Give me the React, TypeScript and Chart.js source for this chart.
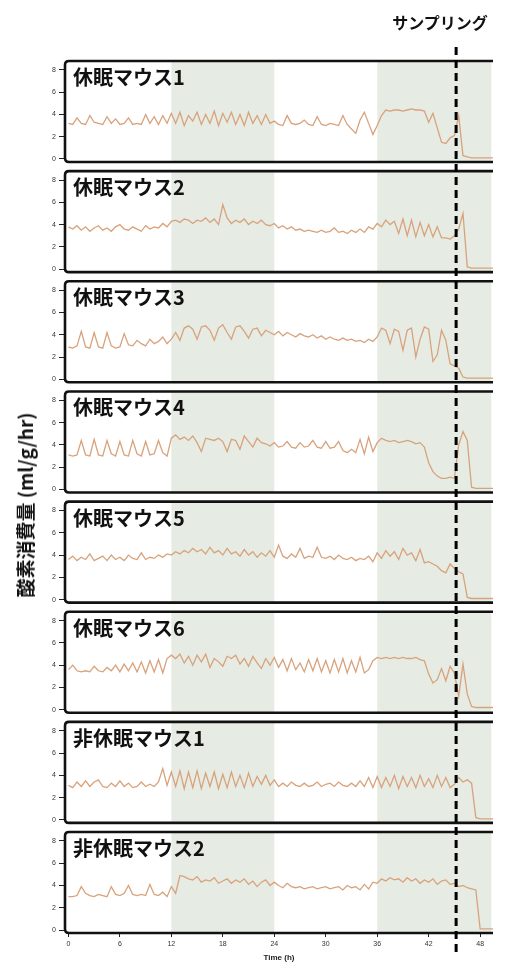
import React, { useEffect, useRef } from "react";
import { Chart, registerables } from "chart.js";

Chart.register(...registerables);

// ---------------- data ----------------
const TIMES = [
  0, 0.5, 1, 1.5, 2, 2.5, 3, 3.5, 4, 4.5, 5, 5.5, 6, 6.5, 7, 7.5, 8, 8.5, 9, 9.5,
  10, 10.5, 11, 11.5, 12, 12.5, 13, 13.5, 14, 14.5, 15, 15.5, 16, 16.5, 17, 17.5, 18, 18.5, 19, 19.5,
  20, 20.5, 21, 21.5, 22, 22.5, 23, 23.5, 24, 24.5, 25, 25.5, 26, 26.5, 27, 27.5, 28, 28.5, 29, 29.5,
  30, 30.5, 31, 31.5, 32, 32.5, 33, 33.5, 34, 34.5, 35, 35.5, 36, 36.5, 37, 37.5, 38, 38.5, 39, 39.5,
  40, 40.5, 41, 41.5, 42, 42.5, 43, 43.5, 44, 44.5, 45, 45.5, 46, 46.5, 47, 47.5, 48, 48.5, 49, 49.5,
];

const PANEL_NAMES = [
  "休眠マウス1",
  "休眠マウス2",
  "休眠マウス3",
  "休眠マウス4",
  "休眠マウス5",
  "休眠マウス6",
  "非休眠マウス1",
  "非休眠マウス2",
];

const HIB_MOUSE_1 = [
  3.2, 3.1, 3.7, 3.2, 3.1, 3.9, 3.3, 3.2, 3.1, 3.8, 3.2, 3.6, 3.1, 3.2, 3.7, 3.1, 3.2, 3.1, 4.0, 3.2, 3.8, 3.1, 3.9, 3.2,
  4.1, 3.2, 4.2, 3.0, 3.9, 3.4, 4.2, 3.1, 4.0, 3.2, 4.3, 3.0, 4.1, 3.3, 4.2, 3.1, 4.0, 3.0, 4.2, 3.2, 3.9, 3.1, 4.0, 3.2,
  3.4, 3.1, 3.0, 3.9, 3.2, 3.1, 3.2, 3.5, 3.1, 3.0, 3.8, 3.1, 3.0, 3.2, 3.1, 3.0, 3.9, 3.1, 2.7, 2.3, 3.5, 4.2, 3.2, 2.2,
  3.0, 3.9, 4.4, 4.3, 4.4, 4.4, 4.3, 4.4, 4.5, 4.4, 4.4, 4.3, 3.3, 4.1, 2.8, 1.5, 1.4, 1.9, 2.1, 3.9, 0.3, 0.2, 0.1, 0.1,
  0.1, 0.1, 0.1, 0.1,
];
const HIB_MOUSE_2 = [
  3.8, 3.6, 3.9, 3.5, 3.8, 3.4, 3.7, 3.9, 3.5, 3.7, 3.4, 3.8, 4.0, 3.6, 3.5, 3.8, 3.6, 3.4, 3.9, 3.6, 3.8, 3.7, 4.1, 3.8,
  4.3, 4.4, 4.2, 4.5, 4.4, 4.1, 4.4, 4.3, 4.6, 4.2, 4.5, 4.0, 5.8, 4.6, 4.1, 4.4, 4.2, 4.5, 4.0, 4.3, 4.1, 4.4, 4.0, 3.9,
  4.1, 3.7, 3.9, 3.6, 3.8, 3.5, 3.6, 3.4, 3.5, 3.4, 3.3, 3.5, 3.3, 3.4, 3.7, 3.3, 3.4, 3.2, 3.5, 3.3, 3.6, 3.3, 3.8, 3.6,
  4.1, 3.8, 4.4, 4.0, 4.3, 3.2, 4.5, 3.0, 4.4, 2.9, 4.2, 3.0, 4.0, 2.9, 3.8, 2.8, 2.8, 2.7, 3.0, 3.6, 5.0, 0.2, 0.1, 0.1,
  0.1, 0.1, 0.1, 0.1,
];
const HIB_MOUSE_3 = [
  2.9, 2.8, 3.0, 4.3, 2.9, 2.8, 4.2, 2.9, 2.8, 4.2, 3.0, 2.8, 2.9, 4.1, 3.1, 3.0, 3.5, 3.2, 3.0, 3.6, 3.2, 3.4, 3.8, 3.2,
  3.6, 4.2, 3.5, 4.6, 4.8, 4.5, 3.6, 4.7, 4.8, 4.4, 3.5, 4.6, 4.9, 4.2, 3.6, 4.7, 4.8, 4.3, 3.7, 4.5, 4.6, 3.9, 4.4, 4.2,
  4.0, 4.3, 3.9, 4.2, 4.0, 3.8, 4.1, 3.9, 3.8, 4.0, 3.7, 3.9, 3.6, 3.8, 3.6, 3.5, 3.7, 3.5, 3.6, 3.4, 3.5, 3.3, 3.6, 3.4,
  3.8, 4.6, 4.4, 3.2, 4.5, 4.3, 2.6, 4.4, 4.6, 2.0, 3.6, 4.7, 4.5, 1.6, 2.2, 4.4, 3.5, 1.4, 1.2, 1.0, 0.2, 0.1, 0.1, 0.1,
  0.1, 0.1, 0.1, 0.1,
];
const HIB_MOUSE_4 = [
  3.1, 3.0, 3.1, 4.4, 3.1, 3.0, 4.5, 3.1, 3.0, 4.4, 3.2, 3.0, 4.3, 3.1, 3.0, 4.4, 3.2, 3.0, 4.3, 3.1, 3.2, 4.4, 3.3, 3.0,
  4.6, 4.9, 4.5, 4.7, 4.4, 4.8, 4.2, 3.4, 4.6, 4.5, 4.4, 4.6, 4.3, 3.4, 4.5, 4.4, 3.6, 4.8, 4.3, 3.8, 4.6, 4.2, 4.1, 3.9,
  4.2, 3.8, 3.9, 4.3, 3.8, 3.7, 4.2, 3.8, 3.9, 4.4, 3.8, 3.7, 4.3, 3.7, 3.8, 4.3, 3.5, 3.3, 3.6, 3.3, 4.5, 3.2, 4.7, 3.4,
  4.2, 4.6, 4.4, 4.3, 4.4, 4.2, 4.3, 4.4, 4.3, 4.1, 4.2, 3.8, 2.4, 1.6, 1.2, 1.0, 1.0, 1.1, 1.0, 4.0, 5.2, 4.4, 0.2, 0.1,
  0.1, 0.1, 0.1, 0.1,
];
const HIB_MOUSE_5 = [
  3.6, 3.9, 3.5, 3.8, 3.6, 4.1, 3.5, 3.7, 3.9, 3.5, 4.0, 3.6, 3.8, 3.5, 4.0, 3.7, 3.6, 4.2, 3.6, 3.8, 3.7, 4.0, 3.8, 4.1,
  4.0, 4.3, 4.1, 4.4, 4.2, 4.6, 4.3, 4.5, 4.1, 4.7, 4.2, 4.4, 4.0, 4.6, 4.1, 4.3, 3.9, 4.5, 4.0, 4.3, 3.8, 4.2, 3.9, 4.4,
  3.8, 4.9, 3.9, 3.7, 4.1, 3.8, 4.6, 3.7, 3.9, 3.8, 4.7, 3.8, 3.7, 3.9, 3.6, 4.0, 3.7, 3.6, 3.8, 3.5, 3.7, 3.6, 3.9, 3.4,
  4.2, 3.7, 4.4, 3.9, 4.3, 3.6, 4.6, 4.0, 4.2, 3.5, 4.5, 3.3, 3.4, 3.2, 3.0, 2.6, 2.4, 3.2, 2.8, 2.5, 2.3, 0.2, 0.1, 0.1,
  0.1, 0.1, 0.1, 0.1,
];
const HIB_MOUSE_6 = [
  3.6, 4.0, 3.5, 3.4, 3.5, 3.4, 3.9, 3.5, 3.4, 3.8, 3.5, 4.0, 3.4, 4.1, 3.5, 4.2, 3.4, 4.3, 3.3, 4.4, 3.4, 4.5, 3.3, 4.6,
  4.9, 4.6, 5.0, 4.2, 4.8, 4.0, 4.9, 4.3, 5.0, 3.8, 4.6, 4.3, 3.9, 4.8, 4.6, 4.9, 4.1, 4.6, 3.9, 4.8, 4.2, 3.7, 4.6, 4.0,
  4.7, 3.8, 4.5, 3.5, 4.6, 3.6, 4.2, 3.4, 4.5, 3.5, 4.6, 3.4, 4.4, 3.3, 4.5, 3.4, 4.6, 3.3, 4.4, 3.4, 4.7, 3.3, 3.6, 4.4,
  4.7, 4.6, 4.7, 4.6, 4.7, 4.6, 4.7, 4.6, 4.6, 4.7, 4.5, 4.4, 3.2, 2.4, 2.7, 3.7, 2.6, 3.9, 3.3, 1.2, 4.1, 1.4, 0.3, 0.2,
  0.2, 0.2, 0.2, 0.2,
];
const NONHIB_MOUSE_1 = [
  3.1, 2.9, 3.4, 3.0, 3.5, 3.0, 3.4, 3.6, 3.0, 2.9, 3.3, 3.0, 3.5, 3.0, 3.3, 2.9, 3.0, 3.4, 3.0, 3.2, 3.0, 3.4, 4.6, 3.1,
  4.3, 3.0, 4.4, 2.8, 4.3, 2.9, 4.4, 2.8, 4.2, 3.0, 4.3, 2.8, 4.1, 2.9, 4.3, 3.0, 4.0, 2.9, 4.2, 3.0, 3.9, 3.2, 4.0, 3.1,
  3.6, 3.0, 3.3, 3.0, 3.4, 3.1, 3.0, 3.3, 3.0, 3.1, 3.4, 3.0, 3.2, 3.3, 3.0, 3.4, 3.1, 3.0, 3.3, 3.0, 3.5, 3.0, 3.8, 2.9,
  3.9, 2.9, 3.8, 3.0, 4.0, 2.8, 3.9, 3.0, 3.8, 2.9, 4.0, 3.0, 3.7, 2.9, 4.0, 3.0, 3.8, 2.9, 3.2, 3.8, 3.4, 3.6, 3.3, 0.2,
  0.1, 0.1, 0.1, 0.1,
];
const NONHIB_MOUSE_2 = [
  3.0, 3.0, 3.1, 3.9, 3.3, 3.1, 3.0, 3.2, 3.1, 3.0, 3.9, 3.2, 3.1, 3.3, 4.0, 3.2, 3.1, 3.2, 3.1, 4.1, 3.2, 3.1, 3.4, 3.0,
  3.9, 3.3, 4.9, 4.8, 4.6, 4.5, 4.8, 4.3, 4.5, 4.4, 4.7, 4.2, 4.4, 4.6, 4.2, 4.5, 4.3, 4.6, 4.1, 4.4, 3.9, 4.3, 4.5, 4.0,
  4.3, 4.0, 3.8, 4.2, 3.9, 3.8, 3.9, 3.7, 3.8, 3.9, 3.7, 3.8, 3.9, 3.7, 3.8, 3.9, 3.6, 4.0, 3.8, 3.9, 3.6, 4.1, 3.7, 4.3,
  4.2, 4.6, 4.4, 4.7, 4.5, 4.6, 4.3, 4.7, 4.4, 4.6, 4.2, 4.5, 4.3, 4.6, 4.1, 4.4, 4.5, 4.1, 4.2, 3.9, 4.0, 3.8, 3.7, 3.6,
  0.1, 0.1, 0.1, 0.1,
];

const SERIES = [
  HIB_MOUSE_1,
  HIB_MOUSE_2,
  HIB_MOUSE_3,
  HIB_MOUSE_4,
  HIB_MOUSE_5,
  HIB_MOUSE_6,
  NONHIB_MOUSE_1,
  NONHIB_MOUSE_2,
];

const X_TICKS = [0, 6, 12, 18, 24, 30, 36, 42, 48];
const Y_TICKS = [0, 2, 4, 6, 8];
const NIGHT_BANDS = [
  [12, 24],
  [36, 49.3],
];
const SAMPLING_TIME = 45.2;
const X_TITLE = "Time (h)";
const Y_TITLE = "酸素消費量 (ml/g/hr)";
const SAMPLING_LABEL = "サンプリング";

// ---------------- layout / style ----------------
const W = 524;
const H = 965;
const FRAME_LEFT = 65;
const FRAME_RIGHT = 493;
const PANEL_TOP = 61;
const PANEL_PITCH = 110.15;
const PANEL_HEIGHT = 101;
const X_AXIS_H = 31;
const X_MIN = -0.4;
const X_MAX = 49.5;
const Y_MIN = -0.27;
const Y_MAX = 8.8;
const LINE_COLOR = "#D8A27C";
const SHADE_COLOR = "#E6ECE3";
const CJK = "'Noto Sans CJK JP', 'Noto Sans', sans-serif";

Chart.defaults.font.family = "'Liberation Sans', Arial, sans-serif";

const shadePlugin = {
  id: "nightShade",
  beforeDatasetsDraw(chart: any) {
    const { ctx, chartArea } = chart;
    const xs = chart.scales.x;
    ctx.save();
    ctx.fillStyle = SHADE_COLOR;
    NIGHT_BANDS.forEach(([a, b]) => {
      const x0 = xs.getPixelForValue(a);
      const x1 = Math.min(xs.getPixelForValue(b), chartArea.right);
      ctx.fillRect(x0, chartArea.top, x1 - x0, chartArea.bottom - chartArea.top);
    });
    ctx.restore();
  },
};

const framePlugin = {
  id: "panelFrame",
  afterDatasetsDraw(chart: any) {
    const { ctx, chartArea } = chart;
    const { left, right, top, bottom } = chartArea;
    const r = 4;
    ctx.save();
    ctx.strokeStyle = "#111";
    ctx.lineWidth = 2.6;
    ctx.beginPath();
    ctx.moveTo(right, top);
    ctx.lineTo(left + r, top);
    ctx.quadraticCurveTo(left, top, left, top + r);
    ctx.lineTo(left, bottom - r);
    ctx.quadraticCurveTo(left, bottom, left + r, bottom);
    ctx.lineTo(right, bottom);
    ctx.stroke();
    ctx.restore();
  },
};

const samplingPlugin = {
  id: "samplingLine",
  afterDraw(chart: any) {
    const { ctx } = chart;
    const x = chart.scales.x.getPixelForValue(SAMPLING_TIME);
    ctx.save();
    ctx.strokeStyle = "#000";
    ctx.lineWidth = 3;
    ctx.setLineDash([8, 5]);
    ctx.beginPath();
    ctx.moveTo(x, 47);
    ctx.lineTo(x, 956);
    ctx.stroke();
    ctx.restore();
  },
};

export default function App() {
  const refs = useRef<(HTMLCanvasElement | null)[]>([]);

  useEffect(() => {
    const charts = SERIES.map((values, i) => {
      const canvas = refs.current[i] as HTMLCanvasElement;
      const isLast = i === SERIES.length - 1;
      const top = PANEL_TOP + i * PANEL_PITCH;
      const bottom = top + PANEL_HEIGHT;
      return new Chart(canvas, {
        type: "line",
        data: {
          datasets: [
            {
              label: PANEL_NAMES[i],
              data: TIMES.map((t, k) => ({ x: t, y: values[k] })),
              borderColor: LINE_COLOR,
              borderWidth: 1.3,
              pointRadius: 0,
              tension: 0,
              fill: false,
            },
          ],
        },
        options: {
          responsive: false,
          animation: false,
          devicePixelRatio: 1,
          events: [],
          layout: {
            padding: {
              left: 0,
              right: W - FRAME_RIGHT,
              top: top,
              bottom: H - bottom - (isLast ? X_AXIS_H : 0),
            },
          },
          plugins: {
            legend: { display: false },
            tooltip: { enabled: false },
            title: { display: false },
          },
          scales: {
            x: {
              type: "linear",
              min: X_MIN,
              max: X_MAX,
              display: isLast,
              afterFit: (s: any) => {
                s.height = isLast ? X_AXIS_H : 0;
              },
              afterBuildTicks: (s: any) => {
                s.ticks = X_TICKS.map((v) => ({ value: v }));
              },
              grid: { drawOnChartArea: false, drawTicks: true, tickLength: 4, color: "#222" },
              border: { display: false },
              ticks: { font: { size: 7 }, color: "#333", padding: 3, maxRotation: 0, autoSkip: false },
              title: {
                display: true,
                text: X_TITLE,
                font: { size: 8, weight: "bold" },
                color: "#222",
                padding: { top: 1, bottom: 1 },
              },
            },
            y: {
              type: "linear",
              min: Y_MIN,
              max: Y_MAX,
              afterFit: (s: any) => {
                s.width = FRAME_LEFT;
              },
              afterBuildTicks: (s: any) => {
                s.ticks = Y_TICKS.map((v) => ({ value: v }));
              },
              grid: { drawOnChartArea: false, drawTicks: true, tickLength: 6, color: "#222" },
              border: { display: false },
              ticks: { font: { size: 7 }, color: "#333", padding: 3 },
            },
          },
        },
        plugins: isLast ? [shadePlugin, framePlugin, samplingPlugin] : [shadePlugin, framePlugin],
      } as any);
    });
    return () => charts.forEach((c) => c.destroy());
  }, []);

  return (
    <div style={{ position: "absolute", left: 0, top: 0, width: W, height: H, background: "#fff", overflow: "hidden" }}>
      {SERIES.map((_, i) => (
        <canvas
          key={i}
          ref={(el) => {
            refs.current[i] = el;
          }}
          width={W}
          height={H}
          style={{ position: "absolute", left: 0, top: 0, width: W, height: H }}
        />
      ))}
      {PANEL_NAMES.map((name, i) => (
        <div
          key={name}
          style={{
            position: "absolute",
            left: 73,
            top: PANEL_TOP + i * PANEL_PITCH + 4,
            fontFamily: CJK,
            fontWeight: 700,
            fontSize: 20,
            lineHeight: "24px",
            color: "#111",
            whiteSpace: "nowrap",
          }}
        >
          {name}
        </div>
      ))}
      <div
        style={{
          position: "absolute",
          left: 390,
          width: 100,
          top: 12,
          textAlign: "center",
          fontFamily: CJK,
          fontWeight: 700,
          fontSize: 16,
          lineHeight: "20px",
          color: "#111",
          whiteSpace: "nowrap",
        }}
      >
        {SAMPLING_LABEL}
      </div>
      <div
        style={{
          position: "absolute",
          left: 25,
          top: 505,
          transform: "translate(-50%, -50%) rotate(-90deg)",
          fontFamily: CJK,
          fontWeight: 700,
          fontSize: 19,
          lineHeight: "22px",
          color: "#111",
          whiteSpace: "nowrap",
        }}
      >
        {Y_TITLE}
      </div>
    </div>
  );
}
